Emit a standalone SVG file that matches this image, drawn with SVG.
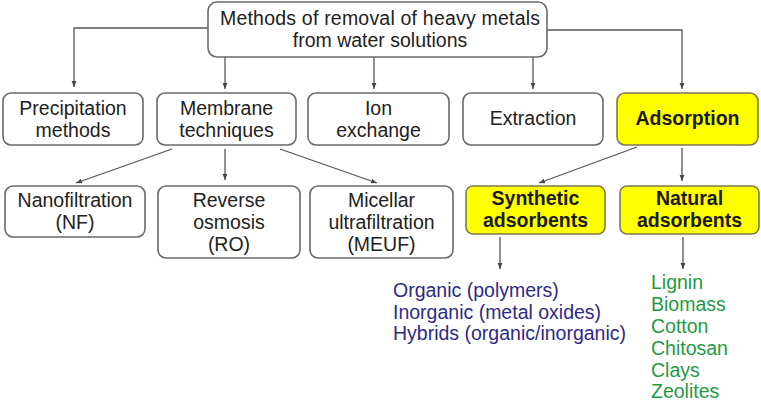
<svg xmlns="http://www.w3.org/2000/svg" width="761" height="402" viewBox="0 0 761 402">
  <style>
    .box { fill: #ffffff; stroke: #6a6a6a; stroke-width: 1.6; }
    .hi { fill: #ffff00; stroke: #7a7a50; stroke-width: 1.6; }
    .t { font-family: "Liberation Sans", Arial, sans-serif; font-size: 19.5px; fill: #222222; text-anchor: middle; }
    .b { font-weight: bold; fill: #1a1a1a; }
    .syn { font-family: "Liberation Sans", Arial, sans-serif; font-size: 19.5px; fill: #2e2a86; }
    .nat { font-family: "Liberation Sans", Arial, sans-serif; font-size: 19.5px; fill: #1f9a44; }
    .c { fill: none; stroke: #555555; stroke-width: 1.3; marker-end: url(#ah); }
  </style>
  <defs>
    <marker id="ah" viewBox="0 0 10 10" refX="10" refY="5" markerWidth="6" markerHeight="6" orient="auto" markerUnits="userSpaceOnUse">
      <path d="M0,1 L10,5 L0,9 Z" fill="#444444"/>
    </marker>
  </defs>
  <rect width="761" height="402" fill="#ffffff"/>

  <g id="connectors">
    <polyline class="c" points="208,28 74,28 74,87"/>
    <line class="c" x1="225" y1="57" x2="225" y2="89"/>
    <line class="c" x1="374" y1="57" x2="374" y2="89"/>
    <line class="c" x1="533" y1="57" x2="533" y2="89"/>
    <polyline class="c" points="547,30 682,30 682,89"/>
    <line class="c" x1="172" y1="149" x2="76" y2="183"/>
    <line class="c" x1="225" y1="149" x2="225" y2="180"/>
    <line class="c" x1="280" y1="149" x2="377" y2="183"/>
    <line class="c" x1="637" y1="147" x2="539" y2="183"/>
    <line class="c" x1="682" y1="148" x2="682" y2="181"/>
    <line class="c" x1="500" y1="237" x2="500" y2="269"/>
    <line class="c" x1="683" y1="237" x2="683" y2="269"/>
  </g>

  <g id="root">
    <rect class="box" x="208" y="2" width="339" height="55" rx="9"/>
    <text class="t" x="380" y="25" textLength="320" lengthAdjust="spacing">Methods of removal of heavy metals</text>
    <text class="t" x="380" y="47">from water solutions</text>
  </g>

  <g id="precipitation">
    <rect class="box" x="3" y="93" width="140" height="52" rx="8"/>
    <text class="t" x="73" y="115">Precipitation</text>
    <text class="t" x="73" y="137">methods</text>
  </g>
  <g id="membrane">
    <rect class="box" x="157" y="93" width="139" height="52" rx="8"/>
    <text class="t" x="226.5" y="115">Membrane</text>
    <text class="t" x="226.5" y="137">techniques</text>
  </g>
  <g id="ion-exchange">
    <rect class="box" x="308" y="93" width="141" height="52" rx="8"/>
    <text class="t" x="378.5" y="115">Ion</text>
    <text class="t" x="378.5" y="137">exchange</text>
  </g>
  <g id="extraction">
    <rect class="box" x="463" y="93" width="140" height="52" rx="8"/>
    <text class="t" x="533" y="125">Extraction</text>
  </g>
  <g id="adsorption">
    <rect class="hi" x="617" y="93" width="141" height="52" rx="8"/>
    <text class="t b" x="687.5" y="125">Adsorption</text>
  </g>

  <g id="nanofiltration">
    <rect class="box" x="5" y="186" width="140" height="51" rx="8"/>
    <text class="t" x="75" y="207">Nanofiltration</text>
    <text class="t" x="75" y="229">(NF)</text>
  </g>
  <g id="reverse-osmosis">
    <rect class="box" x="158" y="186" width="142" height="72" rx="8"/>
    <text class="t" x="229" y="207">Reverse</text>
    <text class="t" x="229" y="229">osmosis</text>
    <text class="t" x="229" y="251">(RO)</text>
  </g>
  <g id="micellar">
    <rect class="box" x="310" y="186" width="143" height="72" rx="8"/>
    <text class="t" x="381.5" y="207">Micellar</text>
    <text class="t" x="381.5" y="229">ultrafiltration</text>
    <text class="t" x="381.5" y="251">(MEUF)</text>
  </g>
  <g id="synthetic">
    <rect class="hi" x="466" y="186" width="139" height="48" rx="7"/>
    <text class="t b" x="535.5" y="205">Synthetic</text>
    <text class="t b" x="535.5" y="227">adsorbents</text>
  </g>
  <g id="natural">
    <rect class="hi" x="620" y="186" width="139" height="48" rx="7"/>
    <text class="t b" x="689.5" y="205">Natural</text>
    <text class="t b" x="689.5" y="227">adsorbents</text>
  </g>

  <g id="synthetic-list">
    <text class="syn" x="393" y="297">Organic (polymers)</text>
    <text class="syn" x="393" y="318.5">Inorganic (metal oxides)</text>
    <text class="syn" x="393" y="340">Hybrids (organic/inorganic)</text>
  </g>
  <g id="natural-list">
    <text class="nat" x="651" y="289">Lignin</text>
    <text class="nat" x="651" y="311">Biomass</text>
    <text class="nat" x="651" y="333">Cotton</text>
    <text class="nat" x="651" y="355">Chitosan</text>
    <text class="nat" x="651" y="376.5">Clays</text>
    <text class="nat" x="651" y="398">Zeolites</text>
  </g>
</svg>
